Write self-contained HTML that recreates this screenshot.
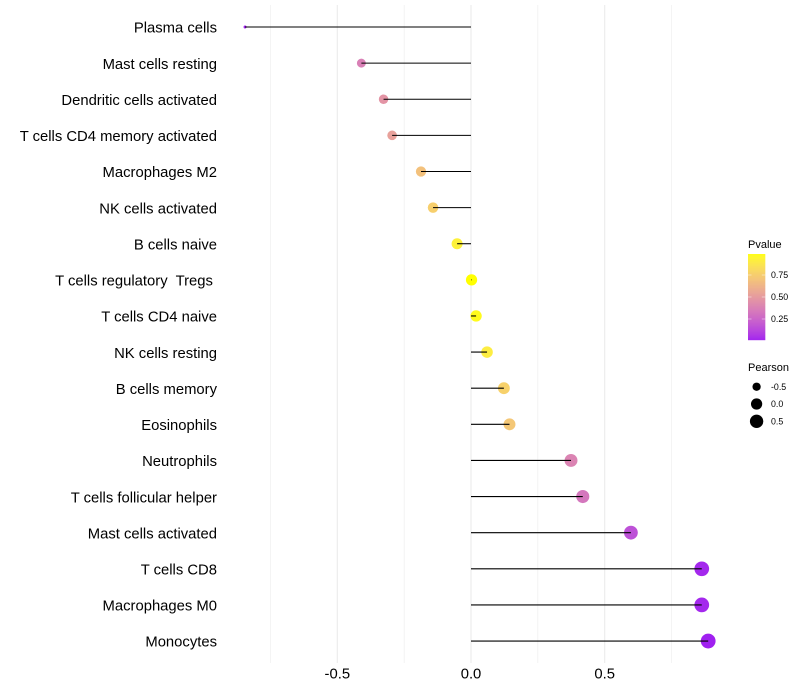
<!DOCTYPE html>
<html>
<head>
<meta charset="utf-8">
<title>Lollipop chart</title>
<style>
html,body{margin:0;padding:0;background:#fff;}
svg{display:block;font-family:"Liberation Sans",sans-serif;}
text{white-space:pre;}
</style>
</head>
<body>
<svg id="chart" xmlns="http://www.w3.org/2000/svg" width="800" height="700" viewBox="0 0 800 700">
<rect x="0" y="0" width="800" height="700" fill="#fff"></rect>
<g id="grid"></g>
<g id="points"></g>
<g id="stems"></g>
<g id="ylabels"></g>
<g id="xlabels"></g>
<g id="pvalue-legend">
<text x="748" y="248" font-size="11" fill="#000">Pvalue</text>
<g id="colorbar"></g>
</g>
<g id="pearson-legend">
<text x="748" y="371" font-size="11" fill="#000">Pearson</text>
</g>
</svg>
<script>
const categories = ["Plasma cells","Mast cells resting","Dendritic cells activated","T cells CD4 memory activated","Macrophages M2","NK cells activated","B cells naive","T cells regulatory  Tregs ","T cells CD4 naive","NK cells resting","B cells memory","Eosinophils","Neutrophils","T cells follicular helper","Mast cells activated","T cells CD8","Macrophages M0","Monocytes"];
const pearson = [-0.845,-0.41,-0.327,-0.295,-0.187,-0.142,-0.052,0.002,0.019,0.06,0.123,0.144,0.374,0.418,0.598,0.863,0.863,0.887];
const pvalue = [0.0,0.37,0.47,0.53,0.69,0.76,0.93,1.0,0.98,0.91,0.77,0.72,0.39,0.33,0.16,0.02,0.02,0.0];
const xMajorTicks = [-0.5,0,0.5];
const xMajorLabels = ["-0.5","0.0","0.5"];
const xMinorTicks = [-0.75,-0.25,0.25,0.75];
const colorTicks = [0.25,0.5,0.75];
const colorTickLabels = ["0.25","0.50","0.75"];
const sizeTicks = [-0.5,0,0.5];
const sizeTickLabels = ["-0.5","0.0","0.5"];

const NS = "http://www.w3.org/2000/svg";
const pxPerUnit = 267.4;
function xScale(v){ return 471 + v * pxPerUnit; }
function yScale(i){ return 27 + i * 36.12; }
function colorY(v){ return 341 - v * 88; }
const sizeMin = Math.min.apply(null, pearson);
const sizeMax = Math.max.apply(null, pearson);
function rScale(v){
  const t = Math.max(0, Math.min(1, (v - sizeMin) / (sizeMax - sizeMin)));
  return 1.5 + 5.9 * Math.sqrt(t);
}
function toLin(c){ c /= 255; return c <= 0.04045 ? c / 12.92 : Math.pow((c + 0.055) / 1.055, 2.4); }
function toSrgb(c){ c = c <= 0.0031308 ? 12.92 * c : 1.055 * Math.pow(c, 1 / 2.4) - 0.055; return Math.round(255 * Math.max(0, Math.min(1, c))); }
function f(t){ return t > 0.008856 ? Math.cbrt(t) : 7.787 * t + 16 / 116; }
function fi(t){ return t > 0.2069 ? t * t * t : (t - 16 / 116) / 7.787; }
function rgb2lab(c){
  const r = toLin(c[0]), g = toLin(c[1]), b = toLin(c[2]);
  const X = (0.4124 * r + 0.3576 * g + 0.1805 * b) / 0.95047;
  const Y = 0.2126 * r + 0.7152 * g + 0.0722 * b;
  const Z = (0.0193 * r + 0.1192 * g + 0.9505 * b) / 1.08883;
  return [116 * f(Y) - 16, 500 * (f(X) - f(Y)), 200 * (f(Y) - f(Z))];
}
function lab2rgb(l){
  const y = (l[0] + 16) / 116, x = l[1] / 500 + y, z = y - l[2] / 200;
  const X = 0.95047 * fi(x), Y = fi(y), Z = 1.08883 * fi(z);
  return "rgb(" + toSrgb(3.2406 * X - 1.5372 * Y - 0.4986 * Z) + "," + toSrgb(-0.9689 * X + 1.8758 * Y + 0.0415 * Z) + "," + toSrgb(0.0557 * X - 0.204 * Y + 1.057 * Z) + ")";
}
const labLow = rgb2lab([160, 32, 240]);
const labHigh = rgb2lab([255, 255, 0]);
function colorScale(v){
  return lab2rgb([0, 1, 2].map(function(k){ return labLow[k] + (labHigh[k] - labLow[k]) * v; }));
}
function mk(tag, attrs, parent){
  const el = document.createElementNS(NS, tag);
  Object.keys(attrs).forEach(function(k){ el.setAttribute(k, attrs[k]); });
  parent.appendChild(el);
  return el;
}

const grid = document.getElementById("grid");
xMinorTicks.forEach(function(v){
  const el = mk("line", {x1: xScale(v), x2: xScale(v), y1: 5, y2: 663, stroke: "#ebebeb", "stroke-width": 0.55}, grid);
  
  
});
xMajorTicks.forEach(function(v){
  const el = mk("line", {x1: xScale(v), x2: xScale(v), y1: 5, y2: 663, stroke: "#ebebeb", "stroke-width": 1.05}, grid);
  
  
});

const pointsG = document.getElementById("points");
const stemsG = document.getElementById("stems");
const yG = document.getElementById("ylabels");
categories.forEach(function(name, i){
  const y = yScale(i);
  const lab = mk("text", {x: 217, y: y + 5.7, "text-anchor": "end", "font-size": 14.82, fill: "#000"}, yG);
  lab.textContent = name;
  
  
  const dot = mk("circle", {cx: xScale(pearson[i]), cy: y, r: rScale(pearson[i]), fill: colorScale(pvalue[i])}, pointsG);
  
  
  const stem = mk("line", {x1: xScale(0), x2: xScale(pearson[i]), y1: y, y2: y, stroke: "#000", "stroke-width": 1.07}, stemsG);
  
  
});

const xG = document.getElementById("xlabels");
xMajorTicks.forEach(function(v, i){
  const lab = mk("text", {x: xScale(v), y: 678.5, "text-anchor": "middle", "font-size": 14.82, fill: "#000"}, xG);
  lab.textContent = xMajorLabels[i];
  
  
});

const bar = document.getElementById("colorbar");
for (let k = 0; k < 86; k++) {
  const v = (340 - k - 0.5 - (341 - 88)) / 88;
  const seg = mk("rect", {x: 748, y: 340 - k - 1, width: 17.3, height: 1.2, fill: colorScale(1 - v)}, bar);
  
  
}
colorTicks.forEach(function(v, i){
  const y = colorY(v);
  const t1 = mk("line", {x1: 748, x2: 751.5, y1: y, y2: y, stroke: "#fff", "stroke-width": 0.55, opacity: 0.8}, bar);
  
  
  const t2 = mk("line", {x1: 761.8, x2: 765.3, y1: y, y2: y, stroke: "#fff", "stroke-width": 0.55, opacity: 0.8}, bar);
  
  
  const lab = mk("text", {x: 771, y: y + 3.2, "font-size": 8.8, fill: "#000"}, bar);
  lab.textContent = colorTickLabels[i];
  
  
});

const pl = document.getElementById("pearson-legend");
sizeTicks.forEach(function(v, i){
  const y = 386.7 + i * 17.3;
  const dot = mk("circle", {cx: 756.6, cy: y, r: rScale(v), fill: "#000"}, pl);
  
  
  const lab = mk("text", {x: 771, y: y + 3.2, "font-size": 8.8, fill: "#000"}, pl);
  lab.textContent = sizeTickLabels[i];
  
  
});
</script>
</body>
</html>
